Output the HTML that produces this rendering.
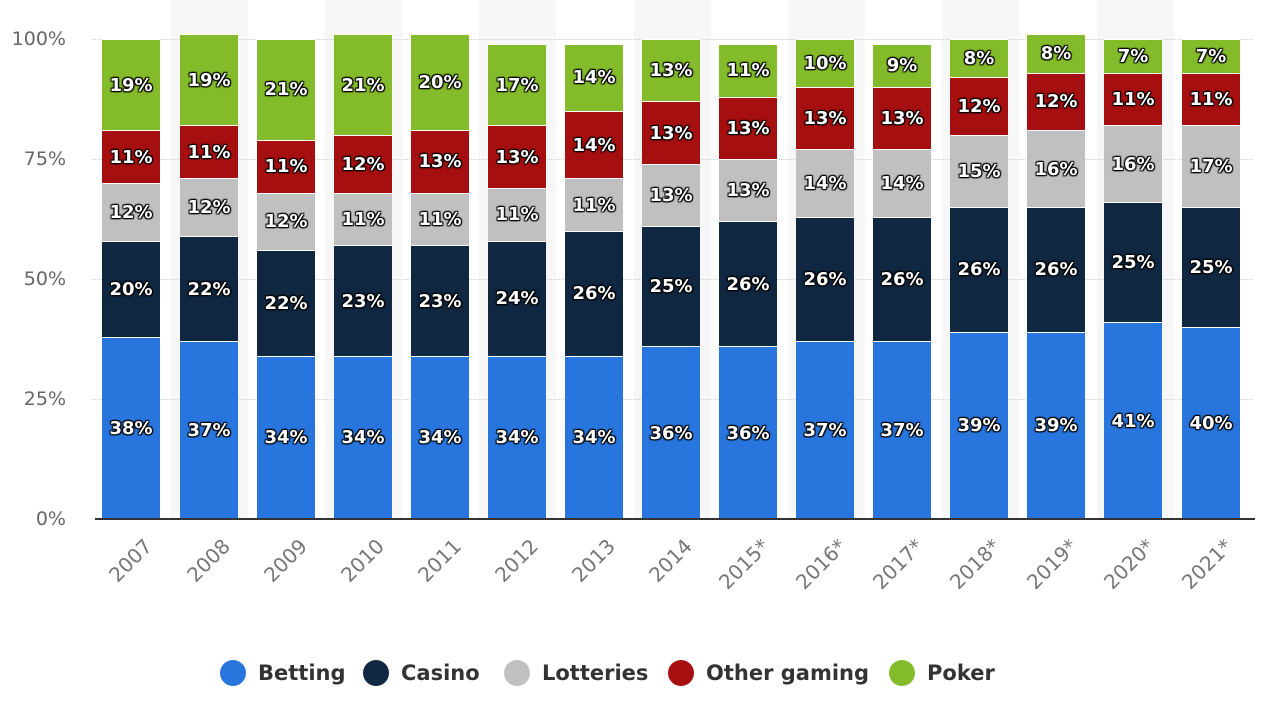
<!DOCTYPE html>
<html><head><meta charset="utf-8"><style>
body{margin:0;width:1280px;height:720px;background:#fff;position:relative;overflow:hidden;font-family:"DejaVu Sans","Liberation Sans",sans-serif}
.band{position:absolute;top:0;height:519px;width:77px;background:#f7f7f7}
.grid{position:absolute;left:92px;width:1160px;border-top:1px dotted #d0d0d0;height:0}
.yl{position:absolute;left:0;width:66px;text-align:right;color:#666;font-size:19px}
.col{position:absolute;bottom:201px;width:58px;display:flex;flex-direction:column-reverse}
.col div{box-sizing:border-box;border-top:1px solid #fff;display:flex;align-items:center;justify-content:center;color:#fff;font-weight:bold;font-size:18px;text-shadow:0 0 2px #000,1px 1px 1px #000,-1px -1px 1px #000,1px -1px 1px #000,-1px 1px 1px #000}
.b{background:#2876dd}.c{background:#0f2740}.l{background:#c0c0c0}.o{background:#a50f0f}.p{background:#84bb2a}
.xl{position:absolute;top:534px;color:#777;font-size:20px;transform-origin:100% 0;transform:rotate(-45deg);text-align:right;width:90px}
.axis{position:absolute;left:95px;top:518px;width:1160px;height:2px;background:#333}
.lg{position:absolute;top:660px;font-size:21px;color:#333;font-weight:bold;display:flex;align-items:center}
.lg span{display:inline-block;width:26px;height:26px;border-radius:50%;margin-right:12px}
</style></head><body>
<div class="band" style="left:171px"></div><div class="band" style="left:325px"></div><div class="band" style="left:479px"></div><div class="band" style="left:634px"></div><div class="band" style="left:788px"></div><div class="band" style="left:942px"></div><div class="band" style="left:1097px"></div>
<div class="grid" style="top:39px"></div><div class="grid" style="top:159px"></div><div class="grid" style="top:279px"></div><div class="grid" style="top:399px"></div>
<div class="yl" style="top:28px">100%</div><div class="yl" style="top:148px">75%</div><div class="yl" style="top:268px">50%</div><div class="yl" style="top:388px">25%</div><div class="yl" style="top:508px">0%</div>

<div class="col" style="left:102px"><div class="b" style="height:182.4px">38%</div><div class="c" style="height:96px">20%</div><div class="l" style="height:57.6px">12%</div><div class="o" style="height:52.8px">11%</div><div class="p" style="height:91.2px">19%</div></div>
<div class="col" style="left:180px"><div class="b" style="height:177.6px">37%</div><div class="c" style="height:105.6px">22%</div><div class="l" style="height:57.6px">12%</div><div class="o" style="height:52.8px">11%</div><div class="p" style="height:91.2px">19%</div></div>
<div class="col" style="left:257px"><div class="b" style="height:163.2px">34%</div><div class="c" style="height:105.6px">22%</div><div class="l" style="height:57.6px">12%</div><div class="o" style="height:52.8px">11%</div><div class="p" style="height:100.8px">21%</div></div>
<div class="col" style="left:334px"><div class="b" style="height:163.2px">34%</div><div class="c" style="height:110.4px">23%</div><div class="l" style="height:52.8px">11%</div><div class="o" style="height:57.6px">12%</div><div class="p" style="height:100.8px">21%</div></div>
<div class="col" style="left:411px"><div class="b" style="height:163.2px">34%</div><div class="c" style="height:110.4px">23%</div><div class="l" style="height:52.8px">11%</div><div class="o" style="height:62.4px">13%</div><div class="p" style="height:96px">20%</div></div>
<div class="col" style="left:488px"><div class="b" style="height:163.2px">34%</div><div class="c" style="height:115.2px">24%</div><div class="l" style="height:52.8px">11%</div><div class="o" style="height:62.4px">13%</div><div class="p" style="height:81.6px">17%</div></div>
<div class="col" style="left:565px"><div class="b" style="height:163.2px">34%</div><div class="c" style="height:124.8px">26%</div><div class="l" style="height:52.8px">11%</div><div class="o" style="height:67.2px">14%</div><div class="p" style="height:67.2px">14%</div></div>
<div class="col" style="left:642px"><div class="b" style="height:172.8px">36%</div><div class="c" style="height:120px">25%</div><div class="l" style="height:62.4px">13%</div><div class="o" style="height:62.4px">13%</div><div class="p" style="height:62.4px">13%</div></div>
<div class="col" style="left:719px"><div class="b" style="height:172.8px">36%</div><div class="c" style="height:124.8px">26%</div><div class="l" style="height:62.4px">13%</div><div class="o" style="height:62.4px">13%</div><div class="p" style="height:52.8px">11%</div></div>
<div class="col" style="left:796px"><div class="b" style="height:177.6px">37%</div><div class="c" style="height:124.8px">26%</div><div class="l" style="height:67.2px">14%</div><div class="o" style="height:62.4px">13%</div><div class="p" style="height:48px">10%</div></div>
<div class="col" style="left:873px"><div class="b" style="height:177.6px">37%</div><div class="c" style="height:124.8px">26%</div><div class="l" style="height:67.2px">14%</div><div class="o" style="height:62.4px">13%</div><div class="p" style="height:43.2px">9%</div></div>
<div class="col" style="left:950px"><div class="b" style="height:187.2px">39%</div><div class="c" style="height:124.8px">26%</div><div class="l" style="height:72px">15%</div><div class="o" style="height:57.6px">12%</div><div class="p" style="height:38.4px">8%</div></div>
<div class="col" style="left:1027px"><div class="b" style="height:187.2px">39%</div><div class="c" style="height:124.8px">26%</div><div class="l" style="height:76.8px">16%</div><div class="o" style="height:57.6px">12%</div><div class="p" style="height:38.4px">8%</div></div>
<div class="col" style="left:1104px"><div class="b" style="height:196.8px">41%</div><div class="c" style="height:120px">25%</div><div class="l" style="height:76.8px">16%</div><div class="o" style="height:52.8px">11%</div><div class="p" style="height:33.6px">7%</div></div>
<div class="col" style="left:1182px"><div class="b" style="height:192px">40%</div><div class="c" style="height:120px">25%</div><div class="l" style="height:81.6px">17%</div><div class="o" style="height:52.8px">11%</div><div class="p" style="height:33.6px">7%</div></div>
<div class="axis"></div>

<div class="xl" style="left:50px">2007</div><div class="xl" style="left:128px">2008</div><div class="xl" style="left:205px">2009</div><div class="xl" style="left:282px">2010</div><div class="xl" style="left:359px">2011</div><div class="xl" style="left:436px">2012</div><div class="xl" style="left:513px">2013</div><div class="xl" style="left:590px">2014</div><div class="xl" style="left:667px">2015*</div><div class="xl" style="left:744px">2016*</div><div class="xl" style="left:821px">2017*</div><div class="xl" style="left:898px">2018*</div><div class="xl" style="left:975px">2019*</div><div class="xl" style="left:1052px">2020*</div><div class="xl" style="left:1130px">2021*</div>

<div class="lg" style="left:220px"><span style="background:#2876dd"></span>Betting</div>
<div class="lg" style="left:363px"><span style="background:#0f2740"></span>Casino</div>
<div class="lg" style="left:504px"><span style="background:#c0c0c0"></span>Lotteries</div>
<div class="lg" style="left:668px"><span style="background:#a50f0f"></span>Other gaming</div>
<div class="lg" style="left:889px"><span style="background:#84bb2a"></span>Poker</div>
</body></html>
